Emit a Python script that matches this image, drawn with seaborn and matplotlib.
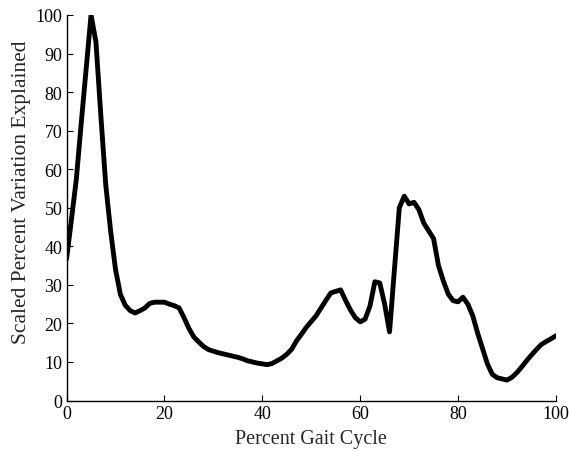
import numpy as np
import pandas as pd
import matplotlib
matplotlib.use('Agg')
import matplotlib.pyplot as plt
import seaborn as sns

# values, one per percent of gait cycle
gait_pct = list(range(0, 101))
variation = [
    36.7, 47.0, 57.5, 72.0, 86.0, 100.0, 93.0, 74.0, 56.0, 44.0,   # 0-9
    34.0, 27.5, 24.7, 23.3, 22.7, 23.3, 24.0, 25.2, 25.5, 25.5,    # 10-19
    25.5, 25.0, 24.6, 24.0, 21.5, 18.7, 16.5, 15.2, 14.0, 13.2,    # 20-29
    12.8, 12.4, 12.1, 11.8, 11.5, 11.2, 10.8, 10.3, 10.0, 9.7,     # 30-39
    9.5, 9.3, 9.6, 10.3, 11.0, 12.0, 13.3, 15.5, 17.2, 19.0,       # 40-49
    20.5, 22.0, 24.0, 26.0, 27.9, 28.3, 28.7, 26.0, 23.5, 21.5,    # 50-59
    20.4, 21.1, 24.5, 30.8, 30.5, 25.0, 17.8, 34.0, 50.0, 53.0,    # 60-69
    51.0, 51.4, 49.5, 46.0, 44.0, 42.0, 35.0, 31.0, 27.6, 25.9,    # 70-79
    25.6, 26.8, 25.0, 22.0, 17.5, 13.5, 9.5, 6.8, 5.9, 5.6,        # 80-89
    5.3, 6.0, 7.2, 8.7, 10.3, 11.8, 13.2, 14.5, 15.3, 16.0,        # 90-99
    16.8,                                                          # 100
]
x_ticks = [0, 20, 40, 60, 80, 100]
y_ticks = [0, 10, 20, 30, 40, 50, 60, 70, 80, 90, 100]

df = pd.DataFrame({'pct': gait_pct, 'var': variation})

sns.set_style('ticks')
plt.rcParams['font.family'] = ['Liberation Serif', 'DejaVu Serif']

fig = plt.figure(figsize=(5.69, 4.52), dpi=100, facecolor='white')
ax = fig.add_axes([0.117, 0.1117, 0.860, 0.853])

sns.lineplot(data=df, x='pct', y='var', color='black', linewidth=3.5, ax=ax)

ax.set_xlim(0, 100)
ax.set_ylim(0, 100)
ax.set_xticks(x_ticks)
ax.set_yticks(y_ticks)
ax.tick_params(direction='in', length=4, width=0.8, labelsize=13, pad=3, colors='black')
for side in ['top', 'right']:
    ax.spines[side].set_visible(False)
for side in ['left', 'bottom']:
    ax.spines[side].set_linewidth(1.0)
    ax.spines[side].set_color('black')

ax.set_xlabel('Percent Gait Cycle', fontsize=14.5, labelpad=5)
ax.set_ylabel('Scaled Percent Variation Explained', fontsize=15.5, labelpad=3, y=0.542)

fig.savefig('out.png', dpi=100, facecolor='white')
